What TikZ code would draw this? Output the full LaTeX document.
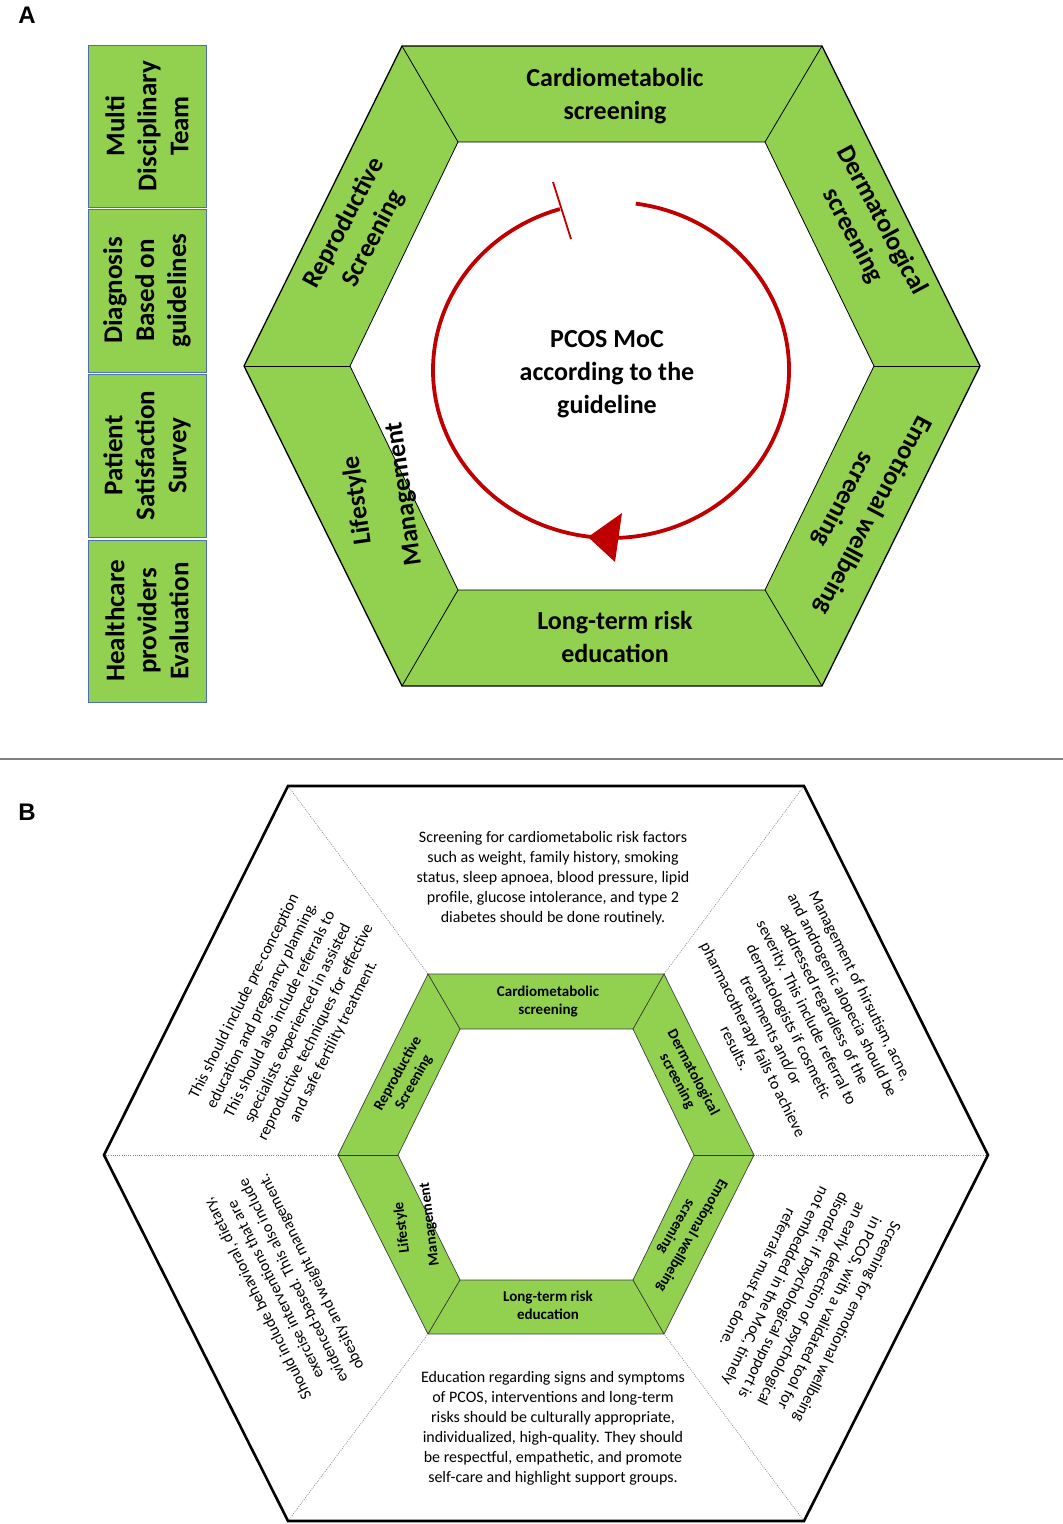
\documentclass[tikz,border=0pt]{standalone}
\usepackage{fontspec}
\setmainfont{Carlito}
\newfontfamily\arialfont{Liberation Sans}
\usetikzlibrary{arrows.meta}
\definecolor{leaf}{HTML}{92D050}
\definecolor{arcred}{HTML}{C00000}
\definecolor{boxblue}{HTML}{4A6FB5}
\begin{document}
\begin{tikzpicture}[x=1pt,y=-1pt,
  panellabel/.style={font=\arialfont\bfseries\fontsize{24}{24}\selectfont, inner sep=0pt},
  sidebox/.style={fill=leaf, draw=boxblue, line width=1pt},
  boxtext/.style={font=\bfseries\fontsize{27}{32}\selectfont, align=center, rotate=90, inner sep=0pt},
  lblA/.style={font=\bfseries\fontsize{26}{33}\selectfont, align=center, inner sep=0pt},
  lblB/.style={font=\bfseries\fontsize{15}{18}\selectfont, align=center, inner sep=0pt},
  descB/.style={font=\fontsize{16}{20}\selectfont, align=center, inner sep=0pt},
  spoke/.style={black, line width=0.8pt},
  dotline/.style={gray, line width=0.6pt, dash pattern=on 1pt off 1.2pt}]
\useasboundingbox (0,0) rectangle (1063,1524);

% ---------------- Panel A ----------------
\node[panellabel] (labA) at (27,15) {A};

% side boxes
\draw[sidebox] (88,45) rectangle (206,207);
\draw[sidebox] (88,209) rectangle (206,372);
\draw[sidebox] (88,374) rectangle (206,537);
\draw[sidebox] (88,540) rectangle (206,702);
\node[boxtext] (bx1) at (147,126) {Multi\\Disciplinary\\Team};
\node[boxtext] (bx2) at (147,290.5) {Diagnosis\\Based on\\guidelines};
\node[boxtext] (bx3) at (147,455.5) {Patient\\Satisfaction\\Survey};
\node[boxtext] (bx4) at (147,621) {Healthcare\\providers\\Evaluation};

% hexagon A
\coordinate (aO1) at (402,46);
\coordinate (aO2) at (822,46);
\coordinate (aO3) at (980,366);
\coordinate (aO4) at (822,686);
\coordinate (aO5) at (402,686);
\coordinate (aO6) at (244,366);
\coordinate (aI1) at (458,142);
\coordinate (aI2) at (765,142);
\coordinate (aI3) at (874,366);
\coordinate (aI4) at (765,590);
\coordinate (aI5) at (458,590);
\coordinate (aI6) at (350,366);
\fill[leaf, even odd rule] (aO1)--(aO2)--(aO3)--(aO4)--(aO5)--(aO6)--cycle
  (aI1)--(aI2)--(aI3)--(aI4)--(aI5)--(aI6)--cycle;
\draw[black, line width=1.3pt] (aO1)--(aO2)--(aO3)--(aO4)--(aO5)--(aO6)--cycle;
\draw[black, line width=0.8pt] (aI1)--(aI2)--(aI3)--(aI4)--(aI5)--(aI6)--cycle;
\foreach \i in {1,...,6} {\draw[spoke] (aO\i)--(aI\i);}

\node[lblA] (aTop) at (615,96) {Cardiometabolic\\screening};
\node[lblA] (aBot) at (615,637) {Long-term risk\\education};
\node[lblA, rotate=-62] (aDer) at (867,228) {Dermatological\\screening};
\node[lblA, rotate=-118] (aEmo) at (858,507) {Emotional wellbeing\\screening};
\node[lblA, rotate=98] (aLif) at (381,497) {Lifestyle\\[14pt]Management};
\node[lblA, rotate=62] (aRep) at (359,231) {Reproductive\\Screening};

% cycle arrow
\coordinate (arcStart) at (635.8,203.6);
\coordinate (barTop) at (553,182);
\coordinate (barBot) at (571,239);
\coordinate (tipP) at (588,537);
\coordinate (tipA) at (622,513);
\coordinate (tipB) at (615,562);
\draw[arcred, line width=3.8pt] (arcStart) arc[start angle=82, end angle=-253.3, x radius=178pt, y radius=168pt];
\draw[arcred, line width=1.8pt] (barTop) -- (barBot);
\fill[arcred] (tipP) -- (tipA) -- (tipB) -- cycle;
\node[lblA] (aMid) at (607,374) {PCOS MoC\\according to the\\guideline};

% separator
\coordinate (sepL) at (0,759);
\coordinate (sepR) at (1063,759);
\draw[gray, line width=1.2pt] (sepL) -- (sepR);

% ---------------- Panel B ----------------
\node[panellabel] (labB) at (27,812) {B};

\coordinate (bO1) at (288,786);
\coordinate (bO2) at (804,786);
\coordinate (bO3) at (988,1155);
\coordinate (bO4) at (804,1521);
\coordinate (bO5) at (288,1521);
\coordinate (bO6) at (104,1155);
\coordinate (gO1) at (428,974);
\coordinate (gO2) at (664,974);
\coordinate (gO3) at (754,1155);
\coordinate (gO4) at (664,1334);
\coordinate (gO5) at (428,1334);
\coordinate (gO6) at (338,1155);
\coordinate (gI1) at (460,1029);
\coordinate (gI2) at (633,1029);
\coordinate (gI3) at (694,1155);
\coordinate (gI4) at (633,1280);
\coordinate (gI5) at (460,1280);
\coordinate (gI6) at (398,1155);

\foreach \i in {1,...,6} {\draw[dotline] (bO\i)--(gO\i);}
\draw[black, line width=2.6pt, line join=miter] (bO1)--(bO2)--(bO3)--(bO4)--(bO5)--(bO6)--cycle;

\fill[leaf, even odd rule] (gO1)--(gO2)--(gO3)--(gO4)--(gO5)--(gO6)--cycle
  (gI1)--(gI2)--(gI3)--(gI4)--(gI5)--(gI6)--cycle;
\draw[black!75, line width=0.7pt] (gO1)--(gO2)--(gO3)--(gO4)--(gO5)--(gO6)--cycle;
\draw[black!75, line width=0.7pt] (gI1)--(gI2)--(gI3)--(gI4)--(gI5)--(gI6)--cycle;
\foreach \i in {1,...,6} {\draw[black!80, line width=0.7pt] (gO\i)--(gI\i);}

\node[lblB] (bTop) at (548,1001) {Cardiometabolic\\screening};
\node[lblB] (bBot) at (548,1305) {Long-term risk\\education};
\node[lblB, rotate=-62] (bDer) at (685,1077) {Dermatological\\screening};
\node[lblB, rotate=-120] (bEmo) at (684,1231) {Emotional wellbeing\\screening};
\node[lblB, rotate=97] (bLif) at (416,1226) {Lifestyle\\[10pt]Management};
\node[lblB, rotate=61] (bRep) at (406,1078) {Reproductive\\Screening};

\node[descB] (dTop) at (553,878) {Screening for cardiometabolic risk factors\\such as weight, family history, smoking\\status, sleep apnoea, blood pressure, lipid\\profile, glucose intolerance, and type 2\\diabetes should be done routinely.};
\node[descB] (dBot) at (553,1428) {Education regarding signs and symptoms\\of PCOS, interventions and long-term\\risks should be culturally appropriate,\\individualized, high-quality. They should\\be respectful, empathetic, and promote\\self-care and highlight support groups.};
\node[descB, rotate=-63.4] (dDer) at (798,1017) {Management of hirsutism, acne,\\and androgenic alopecia should be\\addressed regardless of the\\severity. This include referral to\\dermatologists if cosmetic\\treatments and/or\\pharmacotherapy fails to achieve\\results.};
\node[descB, rotate=-116.6] (dEmo) at (803,1300) {Screening for emotional wellbeing\\in PCOS, with a validated tool for\\an early detection of psychological\\disorder. If psychological support is\\not embedded in the MoC, timely\\referrals must be done.};
\node[descB, rotate=116.6] (dLif) at (285,1285) {Should include behavioral, dietary,\\exercise interventions that are\\evidenced-based. This also include\\obesity and weight management.};
\node[descB, rotate=63.4] (dRep) at (289,1019) {This should include pre-conception\\education and pregnancy planning.\\This should also include referrals to\\specialists experienced in assisted\\reproductive techniques for effective\\and safe fertility treatment.};
\end{tikzpicture}
\end{document}
